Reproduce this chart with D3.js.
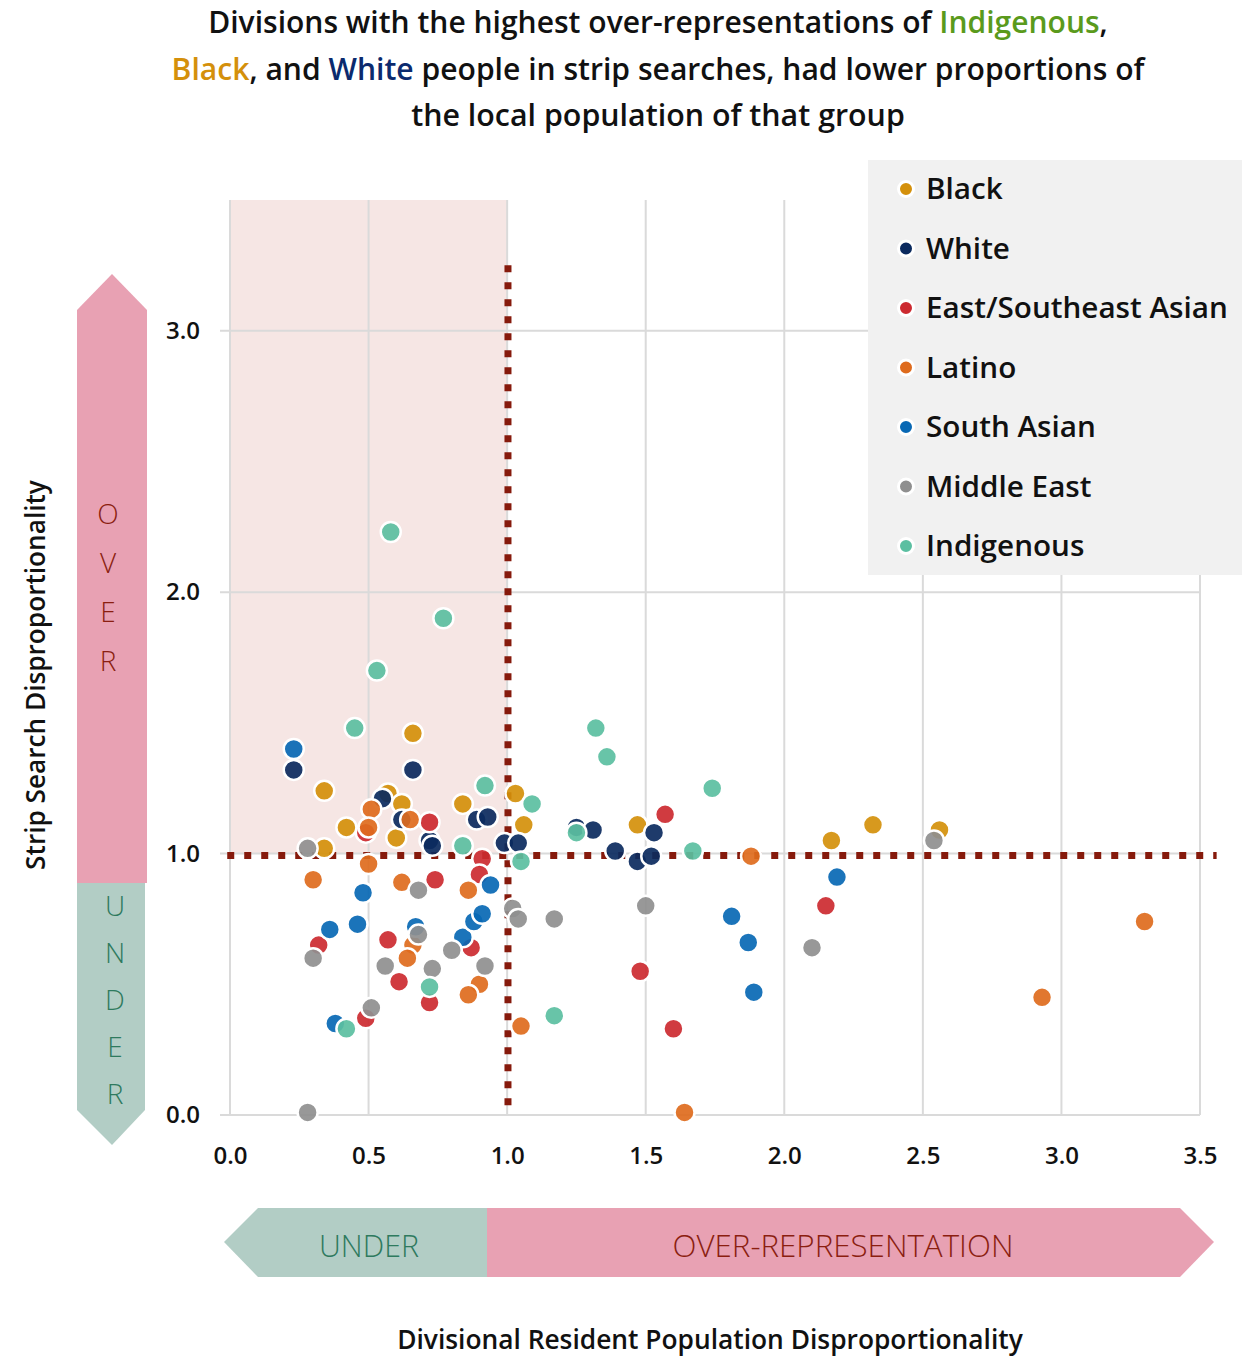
<!DOCTYPE html>
<html><head><meta charset="utf-8">
<script src="https://cdn.jsdelivr.net/npm/d3@7"></script>
<style>
html,body{margin:0;padding:0;background:#fff;}
svg{display:block;font-family:"Open Sans","Noto Sans",sans-serif;}
</style></head>
<body><svg id="chart" width="1242" height="1359"></svg>
<script>
// ---- data ----
const groups = ["Black","White","East/Southeast Asian","Latino","South Asian","Middle East","Indigenous"];
const colors = ["#d4900b","#0b2a5e","#cc2a30","#de6b1d","#0868b4","#8f8f8f","#5bbfa1"];
const black = [[0.66,1.46],[0.34,1.24],[0.57,1.23],[0.62,1.19],[0.84,1.19],[0.42,1.10],[0.60,1.06],[0.34,1.02],[1.03,1.23],[1.06,1.11],[1.47,1.11],[2.17,1.05],[2.32,1.11],[2.56,1.09]];
const white = [[0.23,1.32],[0.66,1.32],[0.55,1.21],[0.89,1.13],[0.93,1.14],[0.62,1.13],[0.72,1.05],[0.73,1.03],[0.99,1.04],[1.04,1.04],[1.25,1.10],[1.31,1.09],[1.53,1.08],[1.39,1.01],[1.47,0.97],[1.52,0.99]];
const eastAsian = [[0.72,1.12],[0.49,1.08],[0.91,0.98],[0.74,0.90],[0.90,0.92],[0.32,0.65],[0.57,0.67],[0.61,0.51],[0.72,0.43],[0.87,0.64],[0.49,0.37],[1.57,1.15],[1.48,0.55],[1.60,0.33],[2.15,0.80]];
const latino = [[0.51,1.17],[0.65,1.13],[0.50,1.10],[0.50,0.96],[0.30,0.90],[0.62,0.89],[0.86,0.86],[0.66,0.65],[0.64,0.60],[0.90,0.50],[0.86,0.46],[1.05,0.34],[1.88,0.99],[1.64,0.01],[3.30,0.74],[2.93,0.45]];
const southAsian = [[0.23,1.40],[0.94,0.88],[0.48,0.85],[0.36,0.71],[0.46,0.73],[0.67,0.72],[0.84,0.68],[0.88,0.74],[0.91,0.77],[0.38,0.35],[1.81,0.76],[1.87,0.66],[1.89,0.47],[2.19,0.91]];
const middleEast = [[0.28,1.02],[0.68,0.86],[0.30,0.60],[0.68,0.69],[0.56,0.57],[0.73,0.56],[0.80,0.63],[0.92,0.57],[0.51,0.41],[0.28,0.01],[1.02,0.79],[1.04,0.75],[1.17,0.75],[1.50,0.80],[2.10,0.64],[2.54,1.05]];
const indigenous = [[0.58,2.23],[0.77,1.90],[0.53,1.70],[0.45,1.48],[0.92,1.26],[0.84,1.03],[1.09,1.19],[1.05,0.97],[0.72,0.49],[0.42,0.33],[1.32,1.48],[1.36,1.37],[1.74,1.25],[1.25,1.08],[1.67,1.01],[1.17,0.38]];
const series = [black,white,eastAsian,latino,southAsian,middleEast,indigenous];
const xTicks = [0,0.5,1,1.5,2,2.5,3,3.5];
const yTicks = [0,1,2,3];

// ---- layout ----
const svg = d3.select("#chart");
const L=230,R=1200,T=200,B=1115;
const x = d3.scaleLinear().domain([0,3.5]).range([L,R]);
const y = d3.scaleLinear().domain([0,3.5]).range([B,T]);

function fit(sel,target){
  const w = sel.node().getComputedTextLength();
  const fs = parseFloat(sel.attr("font-size"));
  const nf = fs*target/w;
  sel.attr("font-size", nf);
  return nf;
}

// shaded region
svg.append("rect").attr("x",x(0)).attr("y",y(3.5)).attr("width",x(1)-x(0)).attr("height",y(1)-y(3.5)).attr("fill","#f6e6e4");

// grid
svg.append("g").selectAll("line").data(xTicks).join("line")
  .attr("x1",d=>x(d)).attr("x2",d=>x(d)).attr("y1",T).attr("y2",B)
  .attr("stroke","#dadada").attr("stroke-width",2);
svg.append("g").selectAll("line").data(yTicks).join("line")
  .attr("x1",L-10).attr("x2",R).attr("y1",d=>y(d)).attr("y2",d=>y(d))
  .attr("stroke","#dadada").attr("stroke-width",2);

// axis labels via d3 axes
const yAxis = svg.append("g").attr("transform",`translate(${L-10},0)`)
  .call(d3.axisLeft(y).tickValues(yTicks).tickFormat(d3.format(".1f")).tickSize(0).tickPadding(20));
yAxis.select(".domain").remove();
yAxis.selectAll("text").attr("font-size",24).attr("font-weight",600).attr("fill","#111").attr("font-family","Open Sans, Noto Sans, sans-serif");
const xAxis = svg.append("g").attr("transform",`translate(0,${B})`)
  .call(d3.axisBottom(x).tickValues(xTicks).tickFormat(d3.format(".1f")).tickSize(0).tickPadding(32));
xAxis.select(".domain").remove();
xAxis.selectAll("text").attr("font-size",24).attr("font-weight",600).attr("fill","#111").attr("font-family","Open Sans, Noto Sans, sans-serif");

// reference dotted lines
const refColor="#861a0c";
svg.append("line").attr("x1",x(1.003)).attr("x2",x(1.003)).attr("y1",y(3.25)).attr("y2",y(0.02))
  .attr("stroke",refColor).attr("stroke-width",7).attr("stroke-dasharray","7,10");
svg.append("line").attr("x1",x(-0.01)).attr("x2",x(3.56)).attr("y1",y(0.993)).attr("y2",y(0.993))
  .attr("stroke",refColor).attr("stroke-width",7).attr("stroke-dasharray","7,10");

// points
series.forEach((pts,i)=>{
  svg.append("g").selectAll("circle").data(pts).join("circle")
    .attr("cx",d=>x(d[0])).attr("cy",d=>y(d[1])).attr("r",10)
    .attr("fill",colors[i]).attr("fill-opacity",0.92)
    .attr("stroke","#fff").attr("stroke-width",2.5);
});

// legend
svg.append("rect").attr("x",868).attr("y",160).attr("width",374).attr("height",415).attr("fill","#f1f1f1");
let legendFs = 29;
{
  const probe = svg.append("text").attr("font-size",29).attr("font-weight",600).text(groups[2]);
  legendFs = fit(probe,302);
  probe.remove();
}
groups.forEach((g,i)=>{
  const cy = 189 + i*59.5;
  svg.append("circle").attr("cx",906).attr("cy",cy).attr("r",7.5).attr("fill",colors[i]).attr("stroke","#fff").attr("stroke-width",3);
  svg.append("text").attr("x",926).attr("y",cy+10).attr("font-size",legendFs).attr("font-weight",600).attr("fill","#111").text(g);
});

// title
const title = [
  [["Divisions with the highest over-representations of ","#111"],["Indigenous","#5a9a1c"],[",","#111"]],
  [["Black","#d4900b"],[", and ","#111"],["White","#0b2a6e"],[" people in strip searches, had lower proportions of","#111"]],
  [["the local population of that group","#111"]]
];
const titleW=[900,973,494];
title.forEach((parts,i)=>{
  const t = svg.append("text").attr("x",658).attr("y",33+i*46.5).attr("text-anchor","middle")
    .attr("font-size",27).attr("font-weight",600);
  parts.forEach(p=>t.append("tspan").attr("fill",p[1]).text(p[0]));
  fit(t,titleW[i]);
});

// axis titles
const yt = svg.append("text").attr("transform","translate(45,675) rotate(-90)").attr("text-anchor","middle")
  .attr("font-size",24).attr("font-weight",600).attr("fill","#111").text("Strip Search Disproportionality");
fit(yt,390);
const xt = svg.append("text").attr("x",710).attr("y",1349).attr("text-anchor","middle")
  .attr("font-size",24).attr("font-weight",600).attr("fill","#111").text("Divisional Resident Population Disproportionality");
fit(xt,626);

// vertical arrow
svg.append("path").attr("d","M77,310 L112,274 L147,310 L147,883 L77,883 Z").attr("fill","#e8a1b3");
svg.append("path").attr("d","M77,883 L145,883 L145,1110 L112,1145 L77,1110 Z").attr("fill","#b2cdc5");
["O","V","E","R"].forEach((c,i)=>svg.append("text").attr("x",108).attr("y",524+i*49).attr("text-anchor","middle")
  .attr("font-size",28).attr("font-weight",300).attr("fill","#8b1e10").text(c));
["U","N","D","E","R"].forEach((c,i)=>svg.append("text").attr("x",115).attr("y",916+i*47).attr("text-anchor","middle")
  .attr("font-size",28).attr("font-weight",300).attr("fill","#2e7a5e").text(c));

// horizontal arrow
svg.append("path").attr("d","M224,1242 L258,1208 L487,1208 L487,1277 L258,1277 Z").attr("fill","#b2cdc5");
svg.append("path").attr("d","M487,1208 L1180,1208 L1214,1242 L1180,1277 L487,1277 Z").attr("fill","#e8a1b3");
const u = svg.append("text").attr("x",369).attr("y",1257).attr("text-anchor","middle").attr("font-size",30).attr("font-weight",300).attr("fill","#2e7a5e").text("UNDER");
fit(u,100);
const o = svg.append("text").attr("x",843).attr("y",1257).attr("text-anchor","middle").attr("font-size",30).attr("font-weight",300).attr("fill","#8b1e10").text("OVER-REPRESENTATION");
fit(o,341);
</script></body></html>
